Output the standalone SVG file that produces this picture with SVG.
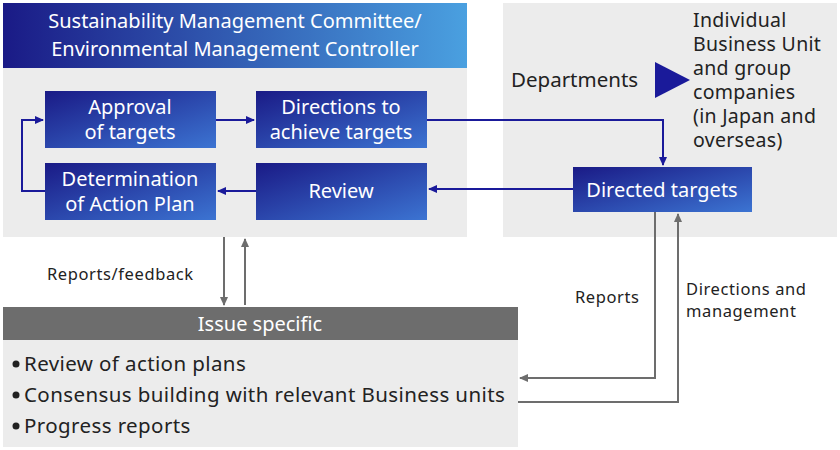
<svg xmlns="http://www.w3.org/2000/svg" width="840" height="450" viewBox="0 0 840 450">
<defs>
<linearGradient id="g" x1="0" y1="0" x2="1" y2="1"><stop offset="0" stop-color="#1a1a86"/><stop offset="1" stop-color="#3c74d2"/></linearGradient>
<linearGradient id="gh" x1="0" y1="0" x2="1" y2="0"><stop offset="0" stop-color="#1a1a86"/><stop offset="1" stop-color="#4aa0e0"/></linearGradient>
<marker id="ab" markerWidth="10" markerHeight="10" refX="8" refY="5" orient="auto" markerUnits="userSpaceOnUse"><path d="M0,1 L9,5 L0,9 z" fill="#1a1a9a"/></marker>
<marker id="ag" markerWidth="10" markerHeight="10" refX="8" refY="5" orient="auto" markerUnits="userSpaceOnUse"><path d="M0,1 L9,5 L0,9 z" fill="#6d6d6d"/></marker>
<style>
text{font-family:"Noto Sans","Open Sans",sans-serif}
.w{fill:#fff;font-size:20px;text-anchor:middle}
.b{fill:#222;font-size:20.5px}
.r{fill:#222;font-size:19.5px;letter-spacing:0.3px}
.bu{fill:#222;font-size:20.5px;letter-spacing:0.4px}
.s{fill:#222;font-size:16.5px;letter-spacing:0.6px}
.bl{stroke:#1a1a9a;stroke-width:2;fill:none;marker-end:url(#ab)}
.gl{stroke:#6d6d6d;stroke-width:2;fill:none;marker-end:url(#ag)}
.box{fill:url(#g)}
</style>
</defs>
<rect x="3" y="3" width="464" height="234" fill="#ececec"/>
<rect x="503" y="3" width="334" height="234" fill="#ececec"/>
<g id="header"><rect x="3" y="3" width="464" height="65" fill="url(#gh)"/>
<text class="w" x="235" y="28" font-size="19">Sustainability Management Committee/</text>
<text class="w" x="235" y="56" font-size="19">Environmental Management Controller</text></g>
<g id="approval"><rect class="box" x="45" y="91" width="171" height="57"/><text class="w" x="130" y="114">Approval</text><text class="w" x="130" y="139">of targets</text></g>
<g id="directions"><rect class="box" x="256" y="91" width="171" height="57"/><text class="w" x="341" y="114">Directions to</text><text class="w" x="341" y="139">achieve targets</text></g>
<g id="determination"><rect class="box" x="45" y="163" width="171" height="57"/><text class="w" x="130" y="186">Determination</text><text class="w" x="130" y="211">of Action Plan</text></g>
<g id="review"><rect class="box" x="256" y="163" width="171" height="57"/><text class="w" x="341" y="198">Review</text></g>
<g id="directed"><rect class="box" x="573" y="167" width="179" height="45"/><text class="w" x="662" y="197">Directed targets</text></g>
<g id="departments"><text class="b" x="511" y="87">Departments</text><path d="M655,62 L690,80 L655,98 z" fill="#1a1a9a"/>
<text class="r" x="693" y="27">Individual</text><text class="r" x="693" y="51">Business Unit</text><text class="r" x="693" y="75">and group</text><text class="r" x="693" y="99">companies</text><text class="r" x="693" y="123">(in Japan and</text><text class="r" x="693" y="147">overseas)</text></g>
<g id="issue"><rect x="3" y="307" width="515" height="33" fill="#6d6d6d"/><rect x="3" y="340" width="515" height="107" fill="#ececec"/>
<text class="w" x="260" y="331">Issue specific</text>
<circle cx="16" cy="364" r="3.5" fill="#222"/><circle cx="16" cy="395" r="3.5" fill="#222"/><circle cx="16" cy="426" r="3.5" fill="#222"/>
<text class="bu" x="24" y="371">Review of action plans</text>
<text class="bu" x="24" y="402">Consensus building with relevant Business units</text>
<text class="bu" x="24" y="433">Progress reports</text></g>
<g id="connectors">
<line class="bl" x1="216" y1="120" x2="254" y2="120"/>
<polyline class="bl" points="427,120 663,120 663,165"/>
<line class="bl" x1="573" y1="189" x2="429" y2="189"/>
<line class="bl" x1="256" y1="191" x2="218" y2="191"/>
<polyline class="bl" points="45,191 22,191 22,120 43,120"/>
<line class="gl" x1="224" y1="237" x2="224" y2="305"/>
<line class="gl" x1="245" y1="305" x2="245" y2="239"/>
<polyline class="gl" points="655,212 655,378 520,378"/>
<polyline class="gl" points="518,402 678,402 678,214"/>
<text class="s" x="47" y="280">Reports/feedback</text>
<text class="s" x="575" y="303">Reports</text>
<text class="s" x="686" y="295">Directions and</text>
<text class="s" x="686" y="317">management</text>
</g>
</svg>
